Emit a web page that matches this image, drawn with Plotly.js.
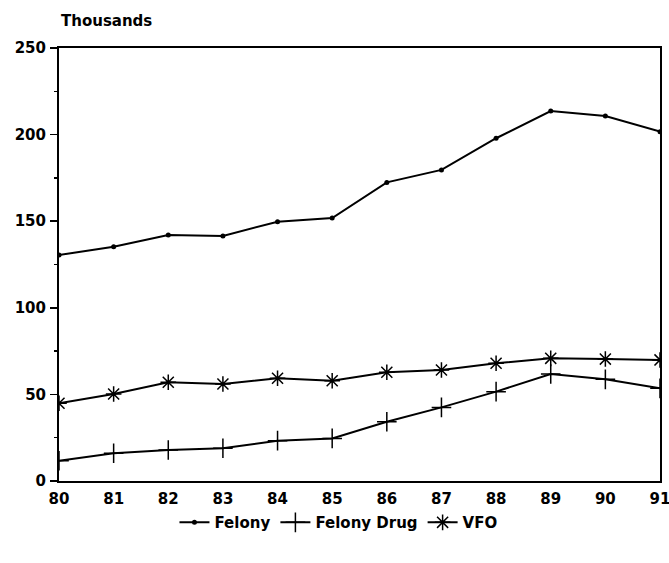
<!DOCTYPE html>
<html><head><meta charset="utf-8">
<script src="https://cdn.plot.ly/plotly-3.0.1.min.js"></script>
<style>html,body{margin:0;padding:0;background:#fff;}#chart{width:669px;height:563px;}</style>
</head><body><div id="chart"></div>
<script>
const years = [80,81,82,83,84,85,86,87,88,89,90,91];
const felony = [130.5,135.3,142,141.5,149.7,151.8,172.4,179.6,197.9,213.6,210.7,201.7];
const felonyDrug = [11.7,16,17.9,18.9,23.3,24.6,34.2,42.5,51.6,61.8,58.7,53.5];
const vfo = [44.9,50.2,57,56,59.3,57.9,62.8,64.1,68,70.8,70.4,69.9];
const yTicks = [0,50,100,150,200,250];

const fam = '"DejaVu Sans", "Liberation Sans", Arial, sans-serif';
const fnt = {family:fam, size:15, color:'#000', weight:'bold'};
const line = {color:'#000', width:2};
const traces = [
  {x:years, y:felony, name:'Felony', mode:'lines+markers', line:line,
   marker:{symbol:'circle', size:5, color:'#000'}},
  {x:years, y:felonyDrug, name:'Felony Drug', mode:'lines+markers', line:line,
   marker:{symbol:'cross-thin-open', size:14, color:'#000', line:{width:1.5, color:'#000'}}},
  {x:years, y:vfo, name:'VFO', mode:'lines+markers', line:line,
   marker:{symbol:'asterisk-open', size:13, color:'#000', line:{width:1.5, color:'#000'}}}
];
const layout = {
  width:669, height:563,
  margin:{l:59, r:9, t:48, b:82, autoexpand:false},
  paper_bgcolor:'#fff', plot_bgcolor:'#fff',
  font:fnt,
  showlegend:true,
  legend:{orientation:'h', x:0.465, xanchor:'center', y:-0.058, yanchor:'top',
          font:fnt, itemwidth:30, tracegroupgap:0},
  xaxis:{range:[80,91], tickvals:years, ticktext:years.map(String), showgrid:false, zeroline:false,
         showline:true, linecolor:'#000', linewidth:2, mirror:true, ticks:'', tickfont:fnt,
         ticklabeloverflow:'allow', ticklabelstandoff:3},
  yaxis:{range:[0,250], tickvals:yTicks, showgrid:false, zeroline:false,
         showline:true, linecolor:'#000', linewidth:2, mirror:true, ticks:'outside', ticklen:7,
         tickwidth:1.5, tickcolor:'#000', tickfont:fnt, ticklabelstandoff:1,
         minor:{dtick:25, ticks:'outside', ticklen:3, tickcolor:'#000'}},
  annotations:[{text:'Thousands', xref:'paper', yref:'paper', x:0, y:1, xanchor:'left', yanchor:'bottom',
                yshift:16, showarrow:false, font:{family:fam, size:15, color:'#000', weight:'bold'}}]
};
Plotly.newPlot('chart', traces, layout, {displayModeBar:false, staticPlot:true});
</script></body></html>
